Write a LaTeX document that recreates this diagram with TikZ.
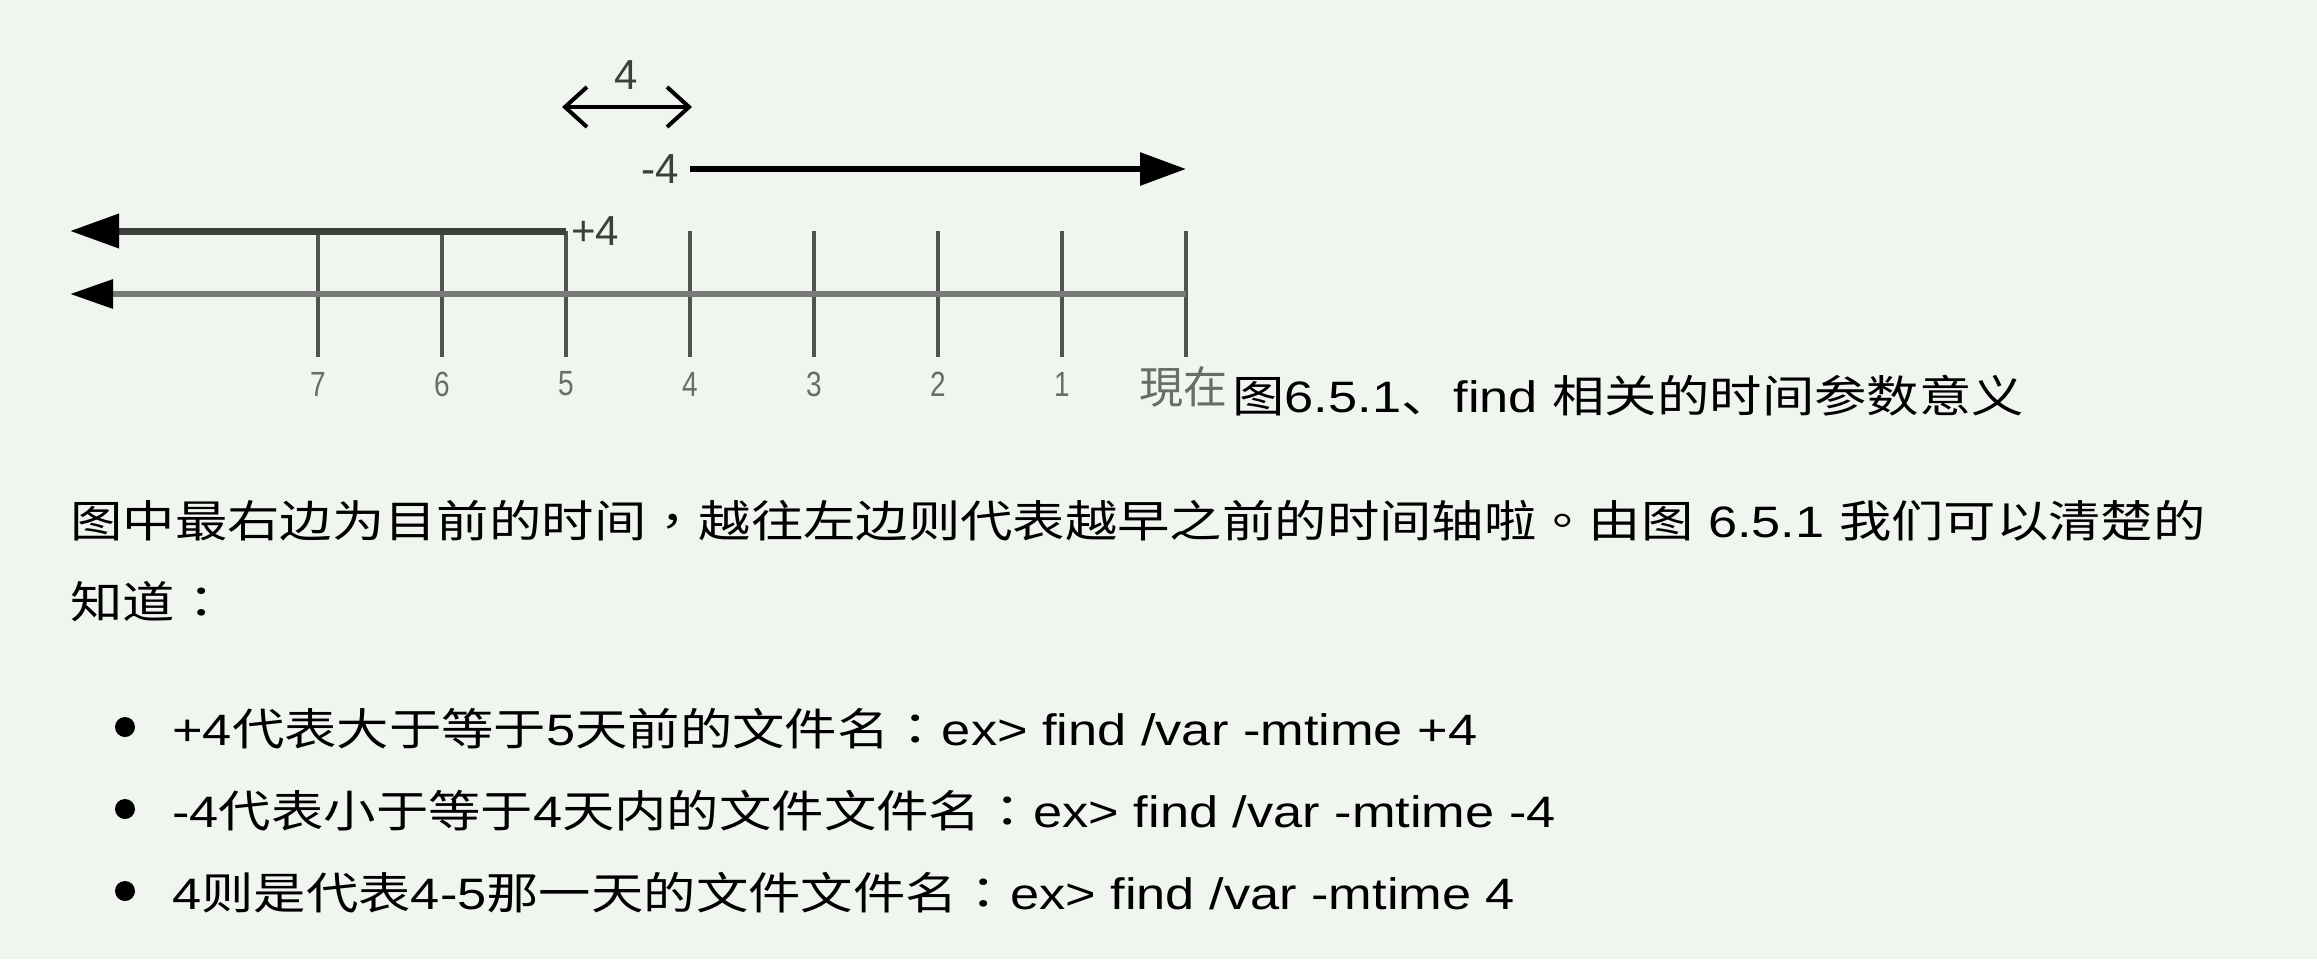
\documentclass[tikz,border=0pt]{standalone}
\usepackage{fontspec}
\setmainfont{Liberation Sans}[FakeStretch=1.19]
\newfontfamily\cjk{Noto Sans CJK SC}[FakeStretch=1.19]
\newfontfamily\cjkpunct{Noto Sans CJK TC}[FakeStretch=1.19]
\newfontfamily\cjknow{Noto Sans CJK SC}
\newfontfamily\plainsans{Liberation Sans}
\newfontfamily\narrowdigits{Liberation Sans}[FakeStretch=0.8]
\newcommand{\zh}[1]{{\cjk #1}}
\newcommand{\zp}[1]{{\cjkpunct #1}}
\usetikzlibrary{arrows.meta,positioning}
\definecolor{paper}{RGB}{241,245,240}
\definecolor{axisgray}{RGB}{119,122,119}
\definecolor{plusgray}{RGB}{60,63,60}
\definecolor{tickgray}{RGB}{80,83,80}
\definecolor{labelgray}{RGB}{105,108,105}

\begin{document}
\begin{tikzpicture}[x=0.5pt, y=-0.5pt,
    tickline/.style={tickgray, line width=2pt},
    ticklabel/.style={inner sep=0pt, labelgray, font=\narrowdigits\fontsize{17.5pt}{18pt}\selectfont},
    numlabel/.style={inner sep=0pt, plusgray, font=\plainsans\fontsize{21pt}{22pt}\selectfont},
    nowlabel/.style={inner sep=0pt, labelgray, font=\cjknow\fontsize{22pt}{24pt}\selectfont},
    bodytext/.style={inner sep=0pt, anchor=base west, font=\fontsize{22pt}{26pt}\selectfont},
    bulletdot/.style={circle, fill=black, inner sep=0pt, minimum size=10pt}]
\path[use as bounding box, fill=paper] (0,0) rectangle (2317,959);

\foreach \i [evaluate=\i as \x using 1186-124*\i] in {0,...,7} {
    \coordinate (top\i) at (\x,231);
    \coordinate (bot\i) at (\x,357);
    \coordinate (a\i) at (\x,294);
    \draw[tickline] (top\i) -- (bot\i);
}
\foreach \i [evaluate=\i as \x using 1186-124*\i] in {1,...,7} {
    \node[ticklabel] (lab\i) at (\x,384) {\i};
}
\node[nowlabel] (nowlab) at (1183,387) {現在};

\coordinate (axisend) at (70,294);
\draw[axisgray, line width=3pt, -{Triangle[length=21.5pt,width=14pt,color=black]}] (a0) -- (axisend);
\draw[plusgray, line width=3.5pt, -{Triangle[length=24.5pt,width=16.5pt,color=black]}] (top5) -- (top5 -| axisend);
\node[numlabel, right=2.5pt of top5] (pluslab) {+4};

\coordinate (minus) at (690,169);
\draw[black, line width=3pt, -{Triangle[length=23pt,width=16pt]}] (minus) -- (minus -| top0);
\node[numlabel, left=5.5pt of minus] (minuslab) {-4};

\coordinate (span5) at (562,107);
\coordinate (span4) at (692,107);
\draw[black, line width=2pt, {Straight Barb[length=11pt,width=20pt]}-{Straight Barb[length=11pt,width=20pt]}] (span5) -- (span4);
\node[numlabel] (spanlab) at (626,75) {4};

\node[bodytext] (caption) at (1232,412) {\zh{图}6.5.1\zh{、}find \zh{相关的时间参数意义}};

\node[bodytext] (para1) at (70,537) {\zh{图中最右边为目前的时间}\zp{，}\zh{越往左边则代表越早之前的时间轴啦}\zp{。}\zh{由图} 6.5.1 \zh{我们可以清楚的}};
\node[bodytext] (para2) at (70,618) {\zh{知道}\zp{：}};

\node[bulletdot] (dot1) at (125,727) {};
\node[bodytext] (item1) at (172,745) {+4\zh{代表大于等于}5\zh{天前的文件名}\zp{：}ex> find /var -mtime +4};
\node[bulletdot] (dot2) at (125,809) {};
\node[bodytext] (item2) at (172,827) {-4\zh{代表小于等于}4\zh{天内的文件文件名}\zp{：}ex> find /var -mtime -4};
\node[bulletdot] (dot3) at (125,891) {};
\node[bodytext] (item3) at (172,909) {4\zh{则是代表}4-5\zh{那一天的文件文件名}\zp{：}ex> find /var -mtime 4};
\end{tikzpicture}
\end{document}
